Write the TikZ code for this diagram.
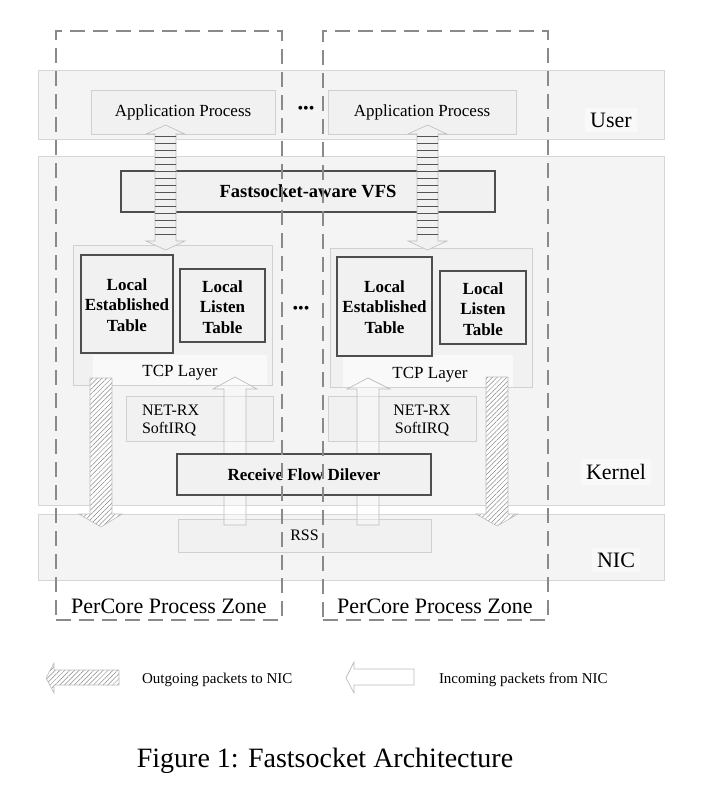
\documentclass[tikz,border=0pt]{standalone}
\usepackage{fontspec}
\setmainfont{Liberation Serif}
\usetikzlibrary{patterns.meta}
\definecolor{bandfill}{HTML}{F4F4F4}
\definecolor{banddraw}{HTML}{D6D6D6}
\definecolor{boxfill}{HTML}{F1F1F1}
\definecolor{boxdraw}{HTML}{D0D0D0}
\definecolor{thickdraw}{HTML}{4E4E4E}
\definecolor{zonedraw}{HTML}{8A8A8A}
\definecolor{arrowdraw}{HTML}{BDBDBD}
\definecolor{stripe}{HTML}{555555}
\definecolor{hatch}{HTML}{8A8A8A}
\newcommand{\bx}[7]{\node[#2, minimum width={(#5-#3)*1pt}, minimum height={(#6-#4)*1pt}] (#1) at ({(#3+#5)/2},{(#4+#6)/2}) {#7};}
\newcommand{\fs}[2]{\fontsize{#1}{#2}\selectfont}
\begin{document}
\begin{tikzpicture}[x=1pt,y=-1pt,
  every node/.style={inner sep=0pt, outer sep=0pt},
  band/.style={draw=banddraw, line width=0.8pt, fill=bandfill},
  lbox/.style={draw=boxdraw, line width=0.8pt, fill=boxfill},
  tbox/.style={draw=thickdraw, line width=1.8pt, fill=boxfill},
  zone/.style={draw=zonedraw, line width=1.6pt, dash pattern=on 15pt off 8pt},
  patch/.style={fill=white, fill opacity=0.6, draw=none},
  lbl/.style={text=black},
  harrow/.style={draw=arrowdraw, line width=0.6pt, preaction={fill=white},
     pattern={Lines[angle=45,distance=3.4pt,line width=0.5pt]}, pattern color=hatch},
  warrow/.style={draw=arrowdraw, line width=0.7pt, fill=white, fill opacity=0.35},
  darrow/.style={draw=arrowdraw, line width=0.6pt, fill=boxfill},
  stripes/.style={pattern={Lines[angle=0,distance=7.4pt,line width=0.9pt]}, pattern color=stripe}
]
\useasboundingbox (0,0) rectangle (711,788);

% layer bands
\bx{userband}{band}{38}{70}{664}{139}{}
\bx{kernelband}{band}{38}{156}{664}{505}{}
\bx{nicband}{band}{38}{514}{664}{580}{}

% application processes
\bx{app1}{lbox}{91}{90}{275}{134}{\fs{17}{20}Application Process}
\bx{app2}{lbox}{328}{90}{516}{134}{\fs{17}{20}Application Process}

% TCP layers
\bx{tcp1}{lbox}{73}{245}{272}{385}{}
\bx{tcp2}{lbox}{330}{248}{532}{387}{}
\bx{tcp1patch}{patch}{93}{355}{267}{385}{}
\bx{tcp2patch}{patch}{343}{355}{513}{387}{}
\node[lbl, font=\fs{17}{20}] (tcp1lbl) at (180,373) {TCP Layer};
\node[lbl, font=\fs{17}{20}] (tcp2lbl) at (430,375) {TCP Layer};

% local tables
\bx{est1}{tbox}{81}{255}{173}{353}{}
\bx{lis1}{tbox}{180}{269}{265}{342}{}
\bx{est2}{tbox}{337}{257}{432}{356}{}
\bx{lis2}{tbox}{440}{271}{526}{344}{}
\node[lbl, align=center, font=\fs{17}{20.5}\bfseries] (est1t) at (127,305) {Local\\Established\\Table};
\node[lbl, align=center, font=\fs{17}{20.5}\bfseries] (lis1t) at (222.5,307) {Local\\Listen\\Table};
\node[lbl, align=center, font=\fs{17}{20.5}\bfseries] (est2t) at (384.5,307) {Local\\Established\\Table};
\node[lbl, align=center, font=\fs{17}{20.5}\bfseries] (lis2t) at (483,309) {Local\\Listen\\Table};

% NET-RX SoftIRQ
\bx{net1}{lbox}{126}{396}{273}{441}{}
\bx{net2}{lbox}{328}{396}{476}{441}{}
\node[lbl, align=left, anchor=west, font=\fs{16}{18}] (net1t) at (142,421) {NET-RX\\SoftIRQ};
\node[lbl, align=center, font=\fs{16}{18}] (net2t) at (422,421) {NET-RX\\SoftIRQ};

% RSS
\bx{rss}{lbox}{178}{519}{431}{552}{\fs{16}{18}RSS}

% VFS
\bx{vfs}{tbox}{121}{171}{495}{212}{\fs{18.5}{20}\bfseries Fastsocket-aware VFS}

% incoming (white, up) arrows
\draw[warrow] (224,525) -- (246,525) -- (246,389) -- (257,389) -- (235,377) -- (213,389) -- (224,389) -- cycle;
\draw[warrow] (357,525) -- (379,525) -- (379,389) -- (390,389) -- (368,378) -- (347,389) -- (357,389) -- cycle;

% outgoing (hatched, down) arrows
\draw[harrow] (90,378) -- (112,378) -- (112,514) -- (122,514) -- (101,527) -- (79,514) -- (90,514) -- cycle;
\draw[harrow] (486,377) -- (508,377) -- (508,514) -- (518,514) -- (497,526) -- (476,514) -- (486,514) -- cycle;

% receive flow deliver
\bx{rfd}{tbox}{177}{454}{431}{495}{\fs{17}{20}\bfseries Receive Flow Dilever}

% double arrows app <-> tcp
\draw[darrow] (155,134) -- (146,134) -- (165.5,125) -- (185,134) -- (176,134) -- (176,241) -- (185,241) -- (165.5,250) -- (146,241) -- (155,241) -- cycle;
\path[stripes] (155,136) rectangle (176,240);
\draw[darrow] (417,134) -- (408,134) -- (427.5,125) -- (447,134) -- (438,134) -- (438,241) -- (447,241) -- (427.5,250) -- (408,241) -- (417,241) -- cycle;
\path[stripes] (417,136) rectangle (438,240);

% ellipses
\node[lbl, font=\fs{16}{16}] (dots1) at (306,110) {•••};
\node[lbl, font=\fs{16}{16}] (dots2) at (301,310) {•••};

% layer labels
\node[lbl, fill=white, fill opacity=0.5, text opacity=1, inner sep=5pt, font=\fs{22}{24}] (userlbl) at (611,120) {User};
\node[lbl, fill=white, fill opacity=0.5, text opacity=1, inner sep=5pt, font=\fs{22}{24}] (kernellbl) at (616,472) {Kernel};
\node[lbl, fill=white, fill opacity=0.5, text opacity=1, inner sep=5pt, font=\fs{22}{24}] (niclbl) at (616,560) {NIC};

% per-core zones
\bx{zone1}{zone}{56}{31}{282}{620}{}
\bx{zone2}{zone}{323}{31}{548}{620}{}
\node[lbl, anchor=base, font=\fs{22}{24}] (zone1lbl) at (169,613) {PerCore Process Zone};
\node[lbl, anchor=base, font=\fs{22}{24}] (zone2lbl) at (435,613) {PerCore Process Zone};

% legend
\draw[harrow] (119,670) -- (119,685) -- (54,685) -- (54,693) -- (46,678) -- (54,663) -- (54,670) -- cycle;
\node[lbl, anchor=base west, font=\fs{15}{17}] (leg1) at (142,683) {Outgoing packets to NIC};
\draw[draw=arrowdraw, line width=0.7pt, fill=white] (414,669) -- (414,685) -- (354,685) -- (354,693) -- (346,678) -- (354,662) -- (354,669) -- cycle;
\node[lbl, anchor=base west, font=\fs{15}{17}] (leg2) at (439,683) {Incoming packets from NIC};

% caption
\node[lbl, anchor=base, font=\fs{28}{30}] (caption) at (325,767) {Figure 1: Fastsocket Architecture};
\end{tikzpicture}
\end{document}
